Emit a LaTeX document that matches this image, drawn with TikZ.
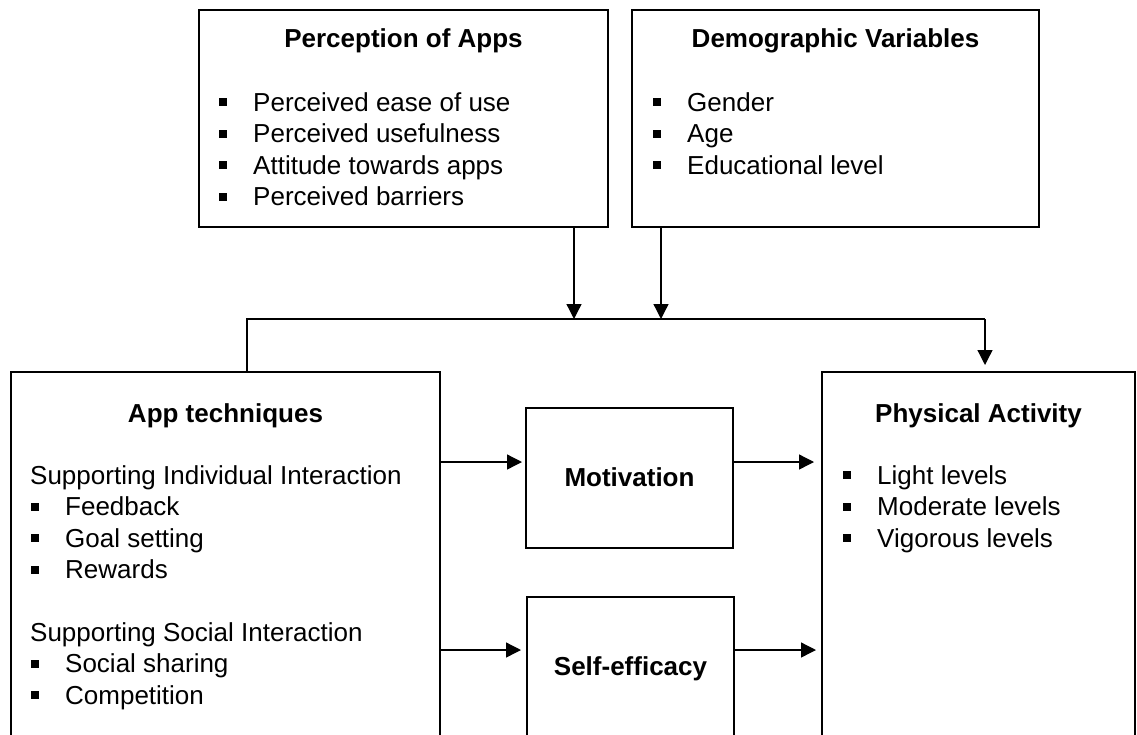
\documentclass[tikz,border=0pt]{standalone}
\usepackage{fontspec}
\setmainfont{Liberation Sans}
\usetikzlibrary{positioning, arrows.meta}
\newcommand{\blt}{\makebox[34pt][l]{\rule[5pt]{7.5pt}{8pt}}}

\begin{document}
\begin{tikzpicture}[x=1pt, y=-1pt,
    box/.style={draw, line width=1.3pt, anchor=north west, inner sep=0pt, outer sep=0pt},
    head/.style={anchor=base, inner sep=0pt, font=\fontsize{26}{31.5}\selectfont\bfseries},
    item/.style={anchor=base west, inner sep=0pt, font=\fontsize{26}{31.5}\selectfont},
    wire/.style={line width=1.3pt},
    arr/.style={line width=1.3pt, -{Triangle[length=15pt, width=15pt]}}]
    \useasboundingbox (0,0) rectangle (1137,734);
    \clip (0,0) rectangle (1137,734);

    % boxes
    \node[box, minimum width=409pt, minimum height=217pt] (perc) at (199,10) {};
    \node[box, minimum width=407pt, minimum height=217pt] (demo) at (632,10) {};
    \node[box, minimum width=429pt, minimum height=420pt] (app) at (11,372) {};
    \node[box, minimum width=207pt, minimum height=140pt] (motiv) at (526,408) {};
    \node[box, minimum width=207pt, minimum height=200pt] (self) at (527,597) {};
    \node[box, minimum width=313pt, minimum height=420pt] (phys) at (822,372) {};

    % titles
    \node[head] (percT) at ([yshift=-37pt]perc.north) {Perception of Apps};
    \node[head] (demoT) at ([yshift=-37pt]demo.north) {Demographic Variables};
    \node[head] (appT) at ([yshift=-50pt]app.north) {App techniques};
    \node[head] (physT) at ([yshift=-50pt]phys.north) {Physical Activity};
    \node[head] (motivT) at ([yshift=-78pt]motiv.north) {Motivation};
    \node[head] (selfT) at ([yshift=-78pt]self.north) {Self-efficacy};

    % lists
    \foreach \txt [count=\i] in {Perceived ease of use, Perceived usefulness, Attitude towards apps, Perceived barriers}
        \node[item] (perc\i) at ([xshift=20pt, yshift={-69.5-31.5*\i}]perc.north west) {\blt\txt};
    \foreach \txt [count=\i] in {Gender, Age, Educational level}
        \node[item] (demo\i) at ([xshift=21pt, yshift={-69.5-31.5*\i}]demo.north west) {\blt\txt};
    \foreach \txt [count=\i] in {Light levels, Moderate levels, Vigorous levels}
        \node[item] (phys\i) at ([xshift=21pt, yshift={-80.5-31.5*\i}]phys.north west) {\blt\txt};
    \node[item] (appS1) at ([xshift=19pt, yshift=-112pt]app.north west) {Supporting Individual Interaction};
    \foreach \txt [count=\i] in {Feedback, Goal setting, Rewards}
        \node[item] (appA\i) at ([xshift=20pt, yshift={-112-31.5*\i}]app.north west) {\blt\txt};
    \node[item] (appS2) at ([xshift=19pt, yshift=-269pt]app.north west) {Supporting Social Interaction};
    \foreach \txt [count=\i] in {Social sharing, Competition}
        \node[item] (appB\i) at ([xshift=20pt, yshift={-269-31.5*\i}]app.north west) {\blt\txt};

    % connectors
    \coordinate (busL) at (247,319);
    \coordinate (busR) at (985,319);
    \coordinate (p1) at ([xshift=-34pt]perc.south east);
    \coordinate (d1) at ([xshift=29pt]demo.south west);
    \draw[arr] (p1) -- (p1 |- busL);
    \draw[arr] (d1) -- (d1 |- busL);
    \draw[wire] (busL |- app.north) -- (busL) -- (busR);
    \draw[arr, shorten >=7pt] (busR) -- (busR |- phys.north);

    \coordinate (m1) at ([yshift=16pt]motiv.west);
    \coordinate (m2) at ([yshift=16pt]motiv.east);
    \coordinate (s1) at ([yshift=-53pt]self.north west);
    \coordinate (s2) at ([yshift=-53pt]self.north east);
    \draw[arr, shorten >=4pt] (m1 -| app.east) -- (m1);
    \draw[arr, shorten >=8pt] (m2) -- (m2 -| phys.west);
    \draw[arr, shorten >=6pt] (s1 -| app.east) -- (s1);
    \draw[arr, shorten >=6pt] (s2) -- (s2 -| phys.west);
\end{tikzpicture}
\end{document}
